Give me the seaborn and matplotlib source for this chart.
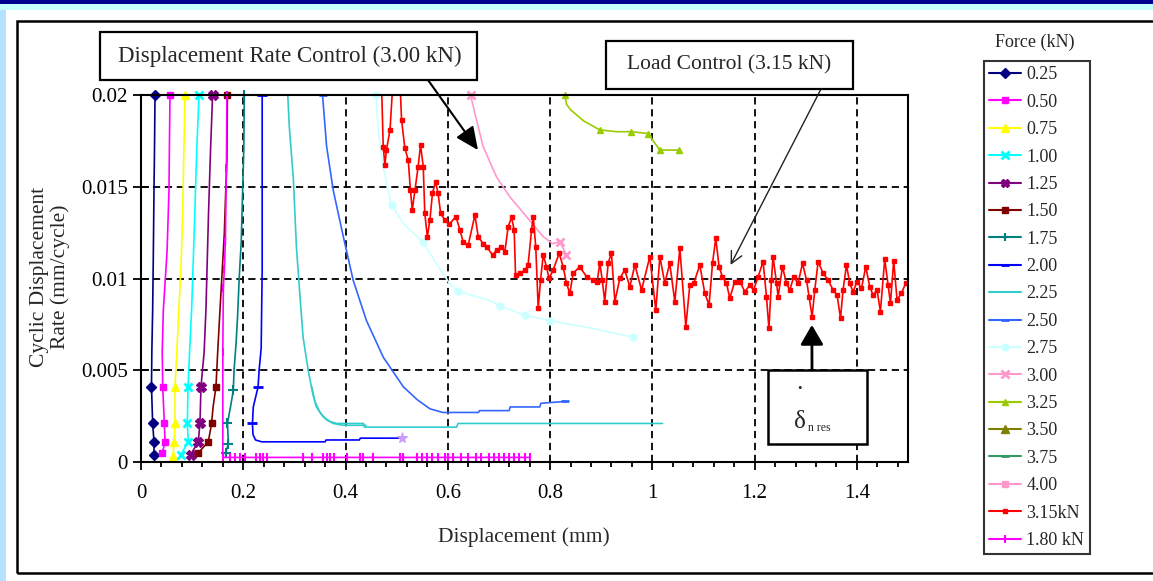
import matplotlib
matplotlib.use("Agg")
import matplotlib.pyplot as plt
from matplotlib.lines import Line2D
from matplotlib.patches import Rectangle
from matplotlib.ticker import MultipleLocator, AutoMinorLocator, FuncFormatter
import seaborn as sns

sns.set_style("white")
plt.rcParams["font.family"] = ["Liberation Serif", "DejaVu Serif"]

# ---------------------------------------------------------------------------
# Displacement (mm) and cyclic displacement rate (mm/cycle) per force level
# ---------------------------------------------------------------------------
f025_x = [0.0274, 0.0264, 0.0254, 0.0240, 0.0228, 0.0212, 0.0205, 0.0228, 0.0254, 0.0254]
f025_y = [0.0200, 0.0170, 0.0148, 0.0110, 0.0083, 0.0060, 0.0041, 0.0021, 0.0011, 0.0004]

f050_x = [0.0567, 0.0555, 0.0547, 0.0510, 0.0437, 0.0415, 0.0425, 0.0456, 0.0470, 0.0417]
f050_y = [0.0200, 0.0170, 0.0148, 0.0115, 0.0083, 0.0060, 0.0041, 0.0021, 0.0011, 0.0005]

f075_x = [0.0860, 0.0835, 0.0815, 0.0780, 0.0740, 0.0700, 0.0665, 0.0665, 0.0650, 0.0620]
f075_y = [0.0200, 0.0165, 0.0135, 0.0105, 0.0083, 0.0060, 0.0041, 0.0021, 0.0011, 0.0003]

f100_x = [0.1134, 0.1090, 0.1040, 0.0990, 0.0950, 0.0920, 0.0906, 0.0925, 0.0776]
f100_y = [0.0200, 0.0170, 0.0125, 0.0083, 0.0060, 0.0041, 0.0021, 0.0011, 0.0004]

f125_x = [0.1400, 0.1360, 0.1320, 0.1270, 0.1235, 0.1173, 0.1153, 0.1120, 0.0971]
f125_y = [0.0200, 0.0170, 0.0135, 0.0083, 0.0060, 0.0041, 0.0021, 0.0011, 0.0004]

f150_x = [0.1690, 0.1680, 0.1660, 0.1630, 0.1590, 0.1545, 0.1500, 0.1466, 0.1410, 0.1380, 0.1316, 0.1120]
f150_y = [0.0200, 0.0165, 0.0150, 0.0125, 0.0105, 0.0083, 0.0060, 0.0041, 0.0030, 0.0021, 0.0011, 0.0005]

f175_x = [0.2020, 0.2010, 0.1990, 0.1960, 0.1920, 0.1890, 0.1860, 0.1820, 0.1805, 0.1750, 0.1690, 0.1710, 0.1655]
f175_y = [0.0200, 0.0170, 0.0150, 0.0120, 0.0100, 0.0080, 0.0065, 0.0050, 0.0039, 0.0030, 0.0021, 0.0010, 0.0005]

f200_x = [0.237, 0.237, 0.235, 0.231, 0.229, 0.2196, 0.218, 0.219, 0.224, 0.236, 0.360, 0.362, 0.427, 0.429, 0.510]
f200_y = [0.0200, 0.0105, 0.0062, 0.0050, 0.0041, 0.0030, 0.0021, 0.0015, 0.0012, 0.0011, 0.0011, 0.0012, 0.0012, 0.0013, 0.0013]

f225_x = [0.287, 0.290, 0.298, 0.304, 0.311, 0.317, 0.327, 0.336, 0.343, 0.356, 0.370, 0.383, 0.435, 0.437, 0.617, 0.620, 1.020]
f225_y = [0.0200, 0.0183, 0.0154, 0.0117, 0.0090, 0.0068, 0.0050, 0.0037, 0.0030, 0.00247, 0.0022, 0.0021, 0.0021, 0.0019, 0.0019, 0.0021, 0.0021]

# repeat run at 2.25 kN, second branch near the end of the curve
f225b_x = [0.334, 0.340, 0.350, 0.363, 0.376, 0.395, 0.440]
f225b_y = [0.0041, 0.0033, 0.0027, 0.0023, 0.0021, 0.0020, 0.0020]

f250_x = [0.355, 0.363, 0.376, 0.3955, 0.415, 0.441, 0.474, 0.513, 0.540, 0.565, 0.590, 0.600, 0.660, 0.662, 0.720, 0.722, 0.780, 0.782, 0.829]
f250_y = [0.0200, 0.0172, 0.0148, 0.0123, 0.0099, 0.0077, 0.0057, 0.0041, 0.0034, 0.0029, 0.0027, 0.0027, 0.0027, 0.0028, 0.0028, 0.0030, 0.0030, 0.0032, 0.0033]

f275_x = [0.4594, 0.464, 0.4737, 0.4835, 0.490, 0.513, 0.551, 0.578, 0.604, 0.620, 0.682, 0.702, 0.751, 0.800, 0.880, 0.9625]
f275_y = [0.0200, 0.0181, 0.0161, 0.0148, 0.0140, 0.0130, 0.0120, 0.0108, 0.0097, 0.0093, 0.0088, 0.0085, 0.0080, 0.0077, 0.0073, 0.0068]

f300_x = [0.6445, 0.653, 0.669, 0.695, 0.721, 0.754, 0.7866, 0.805, 0.819, 0.832]
f300_y = [0.0200, 0.0190, 0.0172, 0.01555, 0.01446, 0.01337, 0.01228, 0.0119, 0.0120, 0.0113]

f325_x = [0.829, 0.832, 0.840, 0.865, 0.897, 0.930, 0.959, 0.992, 1.0016, 1.0147, 1.052]
f325_y = [0.0200, 0.0195, 0.0192, 0.0186, 0.0181, 0.0180, 0.0180, 0.0179, 0.0175, 0.0170, 0.0170]

f350_x = []
f350_y = []
f375_x = []
f375_y = []
f400_x = []
f400_y = []

# load-controlled test at 3.15 kN
f315_x = [0.470, 0.4737, 0.477, 0.480, 0.487, 0.4933, 0.506, 0.5096, 0.516, 0.5226,
          0.527, 0.5305, 0.5357, 0.542, 0.5467, 0.552, 0.555, 0.560, 0.565, 0.570,
          0.576, 0.581, 0.586, 0.594, 0.603, 0.616, 0.6237, 0.630, 0.640, 0.653,
          0.6595, 0.669, 0.676, 0.6875, 0.6954, 0.705, 0.7116, 0.718, 0.7247, 0.7298,
          0.7325, 0.741, 0.751, 0.757, 0.7638, 0.767, 0.772, 0.7768, 0.7814, 0.7866,
          0.793, 0.798, 0.806, 0.8178, 0.8256, 0.832, 0.8387, 0.845, 0.858, 0.8714,
          0.884, 0.892, 0.8974, 0.902,
          0.907, 0.9136, 0.920, 0.9267, 0.9365, 0.946, 0.956, 0.9658, 0.979, 0.995,
          1.0068, 1.0147, 1.0244, 1.034, 1.044, 1.0538, 1.0655, 1.0733, 1.081, 1.0929,
          1.1026, 1.111, 1.1177, 1.124, 1.1306, 1.137, 1.145, 1.1515, 1.161, 1.171,
          1.181, 1.1906, 1.198, 1.2069, 1.2166, 1.2232, 1.228, 1.233, 1.236, 1.243,
          1.246, 1.2545, 1.2623, 1.2688, 1.2766, 1.285, 1.2937, 1.3015, 1.3066, 1.3125,
          1.3177, 1.3242, 1.334, 1.3437, 1.3535, 1.3613, 1.368, 1.373, 1.3797, 1.386,
          1.3926, 1.4004, 1.409, 1.4174, 1.4252, 1.4317, 1.4395, 1.446, 1.4545, 1.461,
          1.4657, 1.472, 1.4786, 1.487, 1.4956, 1.505]
f315_y = [0.021, 0.01718, 0.01619, 0.0170, 0.0181, 0.021, 0.021, 0.01864, 0.0171, 0.01646,
          0.0148, 0.01373, 0.0148, 0.0161, 0.01728, 0.0161, 0.01355, 0.01228, 0.01319, 0.01464,
          0.01528, 0.01464, 0.01355, 0.01319, 0.01297, 0.01337, 0.01264, 0.0120, 0.01183, 0.01346,
          0.01228, 0.0119, 0.01173, 0.01128, 0.01155, 0.01173, 0.01146, 0.01282, 0.01333, 0.01264,
          0.01019, 0.01028, 0.01046, 0.01074, 0.01264, 0.01337, 0.01173, 0.00838, 0.00992, 0.01128,
          0.01064, 0.01001, 0.01046, 0.01137, 0.01064, 0.00974, 0.00919, 0.01028, 0.01064, 0.0101,
          0.00992, 0.00983, 0.01083, 0.00992,
          0.00874, 0.01083, 0.0114, 0.00874, 0.01001, 0.01046, 0.00955, 0.01074, 0.00937, 0.01119,
          0.00828, 0.01119, 0.00974, 0.01083, 0.00874, 0.01165, 0.00737, 0.00965, 0.00974, 0.01074,
          0.00919, 0.00856, 0.01083, 0.01219, 0.01064, 0.0101, 0.00974, 0.00892, 0.00983, 0.00983,
          0.00928, 0.00965, 0.00937, 0.0101, 0.01092, 0.00901, 0.00728, 0.00992, 0.01119, 0.00974,
          0.00901, 0.01064, 0.00974, 0.00937, 0.0101, 0.00974, 0.01083, 0.00992, 0.00901, 0.00792,
          0.00937, 0.01092, 0.01028, 0.00992, 0.00937, 0.0091, 0.00783, 0.00937, 0.01074, 0.00974,
          0.00928, 0.00983, 0.00946, 0.01064, 0.00955, 0.0091, 0.00937, 0.00819, 0.01105, 0.00965,
          0.00865, 0.01097, 0.00883, 0.00919, 0.00974, 0.01001]

# displacement-rate-controlled test at 1.80 kN
f180_x = [0.168, 0.167, 0.165, 0.163, 0.161, 0.160, 0.160, 0.174, 0.184, 0.1935,
          0.203, 0.2248, 0.2326, 0.239, 0.2457, 0.3173, 0.3337, 0.3564, 0.363, 0.3695,
          0.3773, 0.402, 0.428, 0.4346, 0.454, 0.506, 0.513, 0.539, 0.5488, 0.5585,
          0.570, 0.580, 0.595, 0.600, 0.610, 0.625, 0.640, 0.655, 0.665, 0.680,
          0.690, 0.700, 0.710, 0.720, 0.730, 0.740, 0.750, 0.760]
f180_y = [0.0200, 0.0160, 0.0120, 0.0105, 0.0095, 0.0060, 0.00025, 0.00025, 0.00025, 0.00025,
          0.00025, 0.00025, 0.00025, 0.00025, 0.00025, 0.00025, 0.00025, 0.00025, 0.00025, 0.00025,
          0.00025, 0.00025, 0.00025, 0.00025, 0.00025, 0.00025, 0.00025, 0.00025, 0.00025, 0.00025,
          0.00025, 0.00025, 0.00025, 0.00025, 0.00025, 0.00025, 0.00025, 0.00025, 0.00025, 0.00025,
          0.00025, 0.00025, 0.00025, 0.00025, 0.00025, 0.00025, 0.00025, 0.00025]

# single highlighted reading at the end of the 2.00 kN run
f200_last_x = [0.510]
f200_last_y = [0.0013]

labels = ["0.25", "0.50", "0.75", "1.00", "1.25", "1.50", "1.75", "2.00", "2.25",
          "2.50", "2.75", "3.00", "3.25", "3.50", "3.75", "4.00", "3.15kN", "1.80 kN"]
xs = [f025_x, f050_x, f075_x, f100_x, f125_x, f150_x, f175_x, f200_x, f225_x,
      f250_x, f275_x, f300_x, f325_x, f350_x, f375_x, f400_x, f315_x, f180_x]
ys = [f025_y, f050_y, f075_y, f100_y, f125_y, f150_y, f175_y, f200_y, f225_y,
      f250_y, f275_y, f300_y, f325_y, f350_y, f375_y, f400_y, f315_y, f180_y]

# line colour, marker, marker size, marker edge width, indices that carry a marker
styles = [
    ("#000080", "D", 5, 1.0, [0, 6, 7, 8, 9]),
    ("#FF00FF", "s", 5, 1.0, [0, 6, 7, 8, 9]),
    ("#FFFF00", "^", 6, 1.0, [0, 6, 7, 8, 9]),
    ("#00FFFF", "x", 6, 2.0, [0, 5, 6, 7, 8]),
    ("#800080", "X", 7, 1.0, [0, 5, 6, 7, 8]),
    ("#800000", "s", 4, 1.0, [0, 7, 9, 10, 11]),
    ("#008080", "+", 7, 1.5, [0, 8, 10, 11, 12]),
    ("#0000FF", "_", 7, 2.0, [0, 4, 6]),
    ("#33CCCC", "", 0, 1.0, None),
    ("#3366FF", "_", 6, 2.0, [0, 18]),
    ("#CCFFFF", "o", 5, 1.0, [0, 4, 6, 9, 11, 12, 13, 15]),
    ("#FF99CC", "x", 6, 2.0, [0, 8, 9]),
    ("#99CC00", "^", 5, 1.0, [0, 4, 6, 7, 9, 10]),
    ("#808000", "^", 6, 1.0, None),
    ("#339966", "_", 6, 2.0, None),
    ("#FF99CC", "s", 4, 1.0, None),
    ("#FF0000", "s", 3.5, 1.0, None),
    ("#FF00FF", "|", 6, 1.5, None),
]

W, H = 1153, 581
fig = plt.figure(figsize=(W / 100, H / 100), dpi=100)
fig.patch.set_facecolor("white")

# window decoration around the chart panel
fig.add_artist(Rectangle((0, 1 - 4 / H), 1, 4 / H, transform=fig.transFigure,
                         facecolor="#000090", edgecolor="none", zorder=-5))
fig.add_artist(Rectangle((0, 1 - 10 / H), 1, 6 / H, transform=fig.transFigure,
                         facecolor="#c4ffff", edgecolor="none", zorder=-5))
fig.add_artist(Rectangle((0, 0), 6 / W, 1 - 10 / H, transform=fig.transFigure,
                         facecolor="#b4e2ff", edgecolor="none", zorder=-5))
fig.add_artist(Rectangle((17 / W, 1 - 573 / H), 1.2, (573 - 21) / H, transform=fig.transFigure,
                         facecolor="none", edgecolor="black", lw=1.8, zorder=-4))

ax = fig.add_axes([141 / W, 1 - 462 / H, (908 - 141) / W, (462 - 95) / H])
ax.set_xlim(0, 1.5)
ax.set_ylim(0, 0.02)

for x, y, (c, m, ms, mew, me) in zip(xs, ys, styles):
    if len(x) == 0:
        continue
    kw = dict(color=c, lw=1.2, ax=ax, legend=False, sort=False, estimator=None)
    if m:
        kw.update(marker=m, markersize=ms, markeredgewidth=mew,
                  markeredgecolor=c, markerfacecolor=c)
        if me is not None:
            kw["markevery"] = me
    line = sns.lineplot(x=x, y=y, **kw).lines[-1]
    line.set_clip_on(c == "#FF0000")
    if c == "#33CCCC":
        sns.lineplot(x=f225b_x, y=f225b_y, color=c, lw=1.2, ax=ax, legend=False,
                     sort=False, estimator=None)

sns.lineplot(x=f200_last_x, y=f200_last_y, ax=ax, legend=False, color="#CC99FF",
             marker="*", markersize=8, markeredgecolor="#CC99FF", lw=0).lines[-1].set_clip_on(False)

# axes, ticks and grid
ax.xaxis.set_major_locator(MultipleLocator(0.2))
ax.xaxis.set_minor_locator(AutoMinorLocator(5))
ax.yaxis.set_major_locator(MultipleLocator(0.005))
fmt = FuncFormatter(lambda v, p: "{:g}".format(round(v, 6)))
ax.xaxis.set_major_formatter(fmt)
ax.yaxis.set_major_formatter(fmt)
ax.grid(True, which="major", color="black", linestyle=(0, (4, 2.6)), linewidth=1.3)
ax.set_axisbelow(True)
for s in ax.spines.values():
    s.set_color("black")
    s.set_linewidth(1.5)
ax.tick_params(axis="x", which="major", direction="out", length=6, width=1.3,
               pad=10, labelsize=15, colors="black")
ax.tick_params(axis="x", which="minor", direction="out", length=3.5, width=1.3, colors="black")
ax.tick_params(axis="y", which="major", direction="inout", length=11, width=1.3,
               pad=4, labelsize=15, colors="black")
ax.tick_params(bottom=True, left=True, top=False, right=False)
ax.tick_params(axis="x", which="minor", bottom=True)

ax.set_xlabel("")
ax.set_ylabel("")
fig.text(524 / W, 1 - 537 / H, "Displacement (mm)", ha="center", va="center", fontsize=15.5)
fig.text(50 / W, 1 - 277 / H, "Cyclic Displacement\nRate (mm/cycle)", ha="center", va="center",
         rotation=90, fontsize=15.5, linespacing=1.1, multialignment="center")

# legend
handles = []
for (c, m, ms, mew, me) in styles:
    handles.append(Line2D([], [], color=c, lw=1.5, marker=m if m else None,
                          markersize=min(ms, 6), markeredgewidth=mew,
                          markeredgecolor=c, markerfacecolor=c))
leg = fig.legend(handles, labels, loc="upper left", bbox_to_anchor=(984 / W, 1 - 61 / H),
                 bbox_transform=fig.transFigure, frameon=True, fancybox=False, shadow=False,
                 borderaxespad=0, borderpad=0.3, handlelength=1.75, handletextpad=0.3,
                 labelspacing=0.575, fontsize=13)
leg.get_frame().set_edgecolor("black")
leg.get_frame().set_linewidth(1.5)
fig.text(1035 / W, 1 - 42 / H, "Force (kN)", ha="center", va="center", fontsize=13)


def px_box(x0, y0, x1, y1, lw=1.6):
    fig.add_artist(Rectangle((x0 / W, 1 - y1 / H), (x1 - x0) / W, (y1 - y0) / H,
                             transform=fig.transFigure, facecolor="white",
                             edgecolor="black", lw=lw, zorder=3))


# annotation boxes and arrows
px_box(100, 32, 477, 80)
fig.text(290 / W, 1 - 56 / H, "Displacement Rate Control (3.00 kN)", ha="center", va="center",
         fontsize=16.5, zorder=4)
ax.annotate("", xy=(0.659, 0.0170), xycoords="data", xytext=(428, H - 80),
            textcoords="figure pixels",
            arrowprops=dict(arrowstyle="-|>,head_length=0.7,head_width=0.32", color="black",
                            lw=1.5, mutation_scale=20, shrinkA=0, shrinkB=0), zorder=5)

px_box(606, 41, 853, 89)
fig.text(729 / W, 1 - 65 / H, "Load Control (3.15 kN)", ha="center", va="center",
         fontsize=15.5, zorder=4)
ax.annotate("", xy=(1.153, 0.01074), xycoords="data", xytext=(821, H - 89),
            textcoords="figure pixels",
            arrowprops=dict(arrowstyle="->,head_length=0.6,head_width=0.3", color="#222222",
                            lw=1.0, mutation_scale=14, shrinkA=0, shrinkB=0), zorder=5)

px_box(768, 370, 867, 444, lw=1.8)
ax.annotate("", xy=(1.312, 0.00747), xycoords="data", xytext=(812, H - 370),
            textcoords="figure pixels",
            arrowprops=dict(arrowstyle="-|>,head_length=0.6,head_width=0.35", color="black",
                            lw=2.0, mutation_scale=20, shrinkA=0, shrinkB=0), zorder=5)
fig.text(799 / W, 1 - 389 / H, "\u2022", ha="center", va="center", fontsize=9, zorder=4)
fig.text(800 / W, 1 - 428 / H, "\u03b4", ha="center", va="baseline", fontsize=18, zorder=4)
fig.text(808 / W, 1 - 431 / H, "n res", ha="left", va="baseline", fontsize=8.5, zorder=4)

fig.savefig("out.png", dpi=100, facecolor="white")
